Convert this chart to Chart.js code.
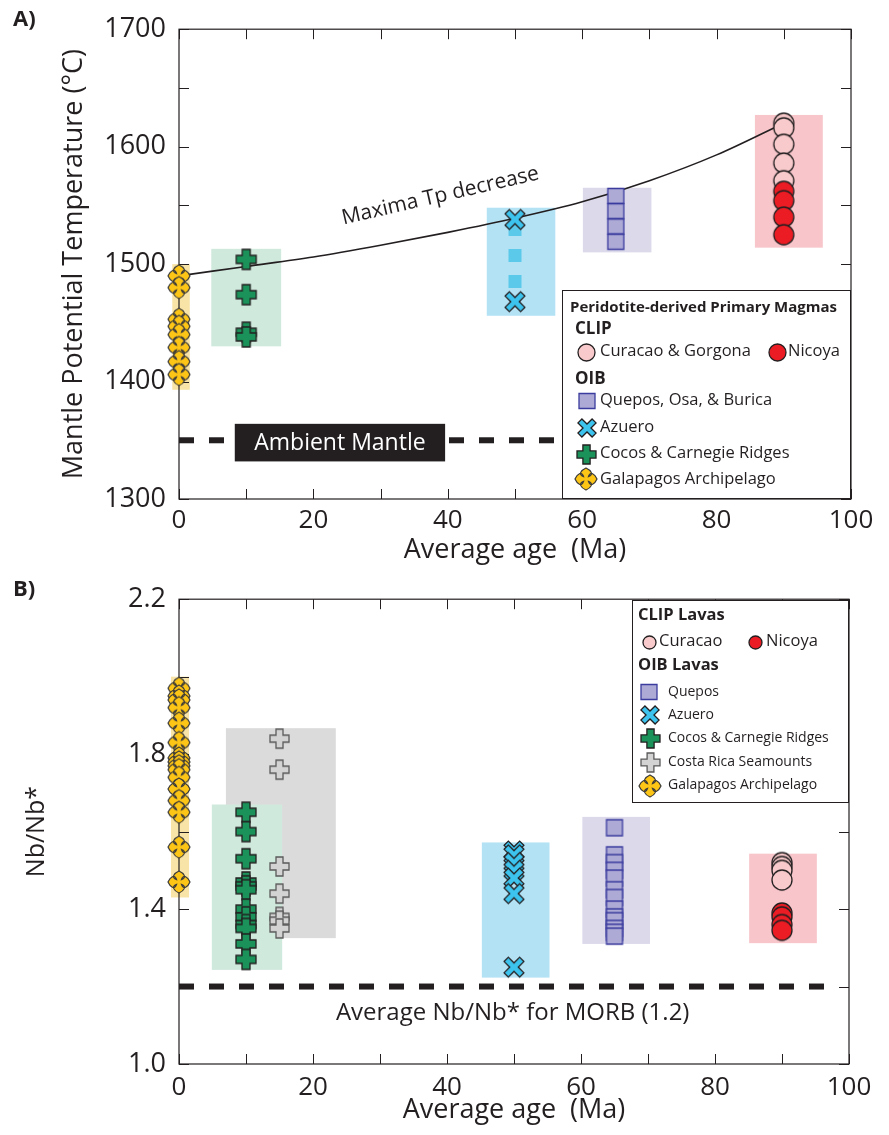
<!DOCTYPE html>
<html>
<head>
<meta charset="utf-8">
<script src="https://cdn.jsdelivr.net/npm/chart.js@4.4.1/dist/chart.umd.min.js"></script>
<style>
  body { margin: 0; background: #fff; }
  #wrapA { position: absolute; left: 0; top: 0; width: 889px; height: 570px; }
  #wrapB { position: absolute; left: 0; top: 570px; width: 889px; height: 565px; }
</style>
</head>
<body>
<div id="wrapA"><canvas id="chartA" width="889" height="570"></canvas></div>
<div id="wrapB"><canvas id="chartB" width="889" height="565"></canvas></div>
<script>
// ages (Ma) of each sample group
const ageGalapagos = 0;
const ageCocos = 10;
const ageSeamounts = 15;
const ageAzuero = 50;
const ageQuepos = 65;
const ageCLIP = 90;

// A) mantle potential temperature (degC)
const tpGalapagos = [1490, 1480, 1453, 1447, 1440, 1429, 1417, 1406];
const tpCocos = [1504, 1474, 1442, 1438];
const tpAzuero = [1538, 1468];
const tpQuepos = [1558, 1545, 1532, 1519];
const tpCuracao = [1620, 1616, 1602, 1586, 1571];
const tpNicoya = [1562, 1554, 1540, 1525];

// fitted maxima curve
const maximaAge = [0, 10, 20, 30, 40, 50, 60, 70, 80, 90];
const maximaTp = [1490, 1498, 1506, 1516, 1527, 1539, 1553, 1571, 1593, 1620];
const ambientTp = 1350;

// ranges shaded behind each group: [ageMin, ageMax, valueMin, valueMax]
const rangeGalapagosA = [-1.0, 1.6, 1393, 1500];
const rangeCocosA = [4.8, 15.2, 1430, 1513];
const rangeAzueroA = [45.8, 56.0, 1456, 1548];
const rangeQueposA = [60.1, 70.3, 1510, 1565];
const rangeCLIPA = [85.7, 95.8, 1514, 1627];

// B) Nb/Nb*
const nbGalapagos = [1.97, 1.95, 1.94, 1.92, 1.88, 1.83, 1.79, 1.78, 1.77, 1.76, 1.74, 1.71, 1.68, 1.65, 1.56, 1.47];
const nbCocos = [1.65, 1.60, 1.53, 1.47, 1.46, 1.45, 1.40, 1.38, 1.36, 1.35, 1.31, 1.27];
const nbSeamounts = [1.84, 1.76, 1.51, 1.44, 1.38, 1.37, 1.35];
const nbAzuero = [1.55, 1.54, 1.52, 1.50, 1.48, 1.44, 1.25];
const nbQuepos = [1.61, 1.54, 1.52, 1.50, 1.48, 1.45, 1.43, 1.40, 1.38, 1.37, 1.35, 1.34, 1.33];
const nbCuracao = [1.52, 1.51, 1.50, 1.475];
const nbNicoya = [1.39, 1.38, 1.36, 1.345];
const morbNb = 1.2;

const rangeGalapagosB = [-1.2, 1.5, 1.43, 2.0];
const rangeSeamountsB = [7.0, 23.4, 1.325, 1.867];
const rangeCocosB = [4.9, 15.4, 1.243, 1.67];
const rangeAzueroB = [45.2, 55.3, 1.223, 1.572];
const rangeQueposB = [60.2, 70.3, 1.31, 1.638];
const rangeCLIPB = [85.1, 95.2, 1.312, 1.543];

const INK = "#231f20";
const FONT = '"Open Sans", "DejaVu Sans", sans-serif';

// ---------- marker images ----------
function marker(size, paint) {
  const c = document.createElement("canvas");
  c.width = size;
  c.height = size;
  const g = c.getContext("2d");
  g.translate(size / 2, size / 2);
  paint(g);
  return c;
}

function crossPath(g, t, L, rot) {
  const pts = [[-t, -L], [t, -L], [t, -t], [L, -t], [L, t], [t, t], [t, L], [-t, L], [-t, t], [-L, t], [-L, -t], [-t, -t]];
  const c = Math.cos(rot), s = Math.sin(rot);
  g.beginPath();
  pts.forEach(([x, y], i) => {
    const px = x * c - y * s, py = x * s + y * c;
    i ? g.lineTo(px, py) : g.moveTo(px, py);
  });
  g.closePath();
}

// four rounded lobes with slightly pointed tips
function starPath(g, r) {
  g.beginPath();
  for (let k = 0; k < 4; k++) {
    const a = (k * Math.PI) / 2;
    const rot = (x, y) => [x * Math.cos(a) - y * Math.sin(a), x * Math.sin(a) + y * Math.cos(a)];
    if (k === 0) g.moveTo(...rot(-0.22 * r, -0.22 * r));
    g.bezierCurveTo(...rot(-0.75 * r, -0.4 * r), ...rot(-0.45 * r, -0.8 * r), ...rot(0, -r));
    g.bezierCurveTo(...rot(0.45 * r, -0.8 * r), ...rot(0.75 * r, -0.4 * r), ...rot(0.22 * r, -0.22 * r));
  }
  g.closePath();
}

function paintFill(g, fill, stroke, lw) {
  g.fillStyle = fill;
  g.fill();
  g.strokeStyle = stroke;
  g.lineWidth = lw;
  g.stroke();
}

const circleMk = (r, fill) => marker(2 * r + 4, (g) => {
  g.beginPath();
  g.arc(0, 0, r, 0, Math.PI * 2);
  paintFill(g, fill, INK, 1.3);
});
const squareMk = (w, h) => marker(Math.max(w, h) + 4, (g) => {
  g.beginPath();
  g.rect(-w / 2, -h / 2, w, h);
  paintFill(g, "#aeaad6", "#3b3c9e", 1.3);
});
const xMk = (t, L) => marker(2 * L + 6, (g) => {
  crossPath(g, t, L, Math.PI / 4);
  paintFill(g, "#3cc3ee", INK, 1.3);
});
const plusMk = (t, L, fill, stroke) => marker(2 * L + 4, (g) => {
  crossPath(g, t, L, 0);
  paintFill(g, fill, stroke, 1.3);
});
const starMk = (r) => marker(2 * r + 4, (g) => {
  starPath(g, r);
  paintFill(g, "#fdc516", "#3a3a3a", 1.2);
});

const MK = {
  curacao: circleMk(10, "#f8cacb"),
  nicoya: circleMk(10, "#ec1c24"),
  queposA: squareMk(16, 15),
  queposB: squareMk(16, 16),
  azuero: xMk(3, 11),
  cocos: plusMk(4, 10, "#1b9259", INK),
  seamount: plusMk(3.5, 9.5, "#d3d3d3", "#5a5a5a"),
  galapagos: starMk(11),
};
const LMK = {
  curacaoA: circleMk(8.5, "#f8cacb"),
  nicoyaA: circleMk(8.5, "#ec1c24"),
  curacaoB: circleMk(6.5, "#f8cacb"),
  nicoyaB: circleMk(6.5, "#ec1c24"),
  square: squareMk(16, 15),
  azuero: xMk(2.8, 10),
  cocos: plusMk(3.6, 9.5, "#1b9259", INK),
  seamount: plusMk(3.4, 9.5, "#d3d3d3", "#5a5a5a"),
  galapagos: starMk(11),
};

// ---------- dataset helpers ----------
function group(age, values, style) {
  return {
    type: "scatter",
    data: values.map((v) => ({ x: age, y: v })),
    pointStyle: style,
    pointRadius: 10,
    clip: false,
  };
}

function segment(points, color, width, dash) {
  return {
    type: "line",
    data: points,
    borderColor: color,
    borderWidth: width,
    borderDash: dash,
    pointRadius: 0,
    fill: false,
    clip: false,
  };
}

// ---------- drawing helpers ----------
function drawRanges(chart, ranges) {
  const { ctx, scales: { x, y } } = chart;
  ranges.forEach(([r, color]) => {
    const x0 = x.getPixelForValue(r[0]), x1 = x.getPixelForValue(r[1]);
    const y0 = y.getPixelForValue(r[3]), y1 = y.getPixelForValue(r[2]);
    ctx.fillStyle = color;
    ctx.fillRect(x0, y0, x1 - x0, y1 - y0);
  });
}

function drawFrame(chart) {
  const { ctx, chartArea: a, scales: { x, y } } = chart;
  ctx.save();
  ctx.strokeStyle = INK;
  ctx.lineWidth = 1.2;
  ctx.strokeRect(a.left, a.top, a.right - a.left, a.bottom - a.top);
  ctx.lineWidth = 1;
  ctx.beginPath();
  x.ticks.forEach((t) => {
    const px = Math.round(x.getPixelForValue(t.value)) + 0.5;
    ctx.moveTo(px, a.bottom); ctx.lineTo(px, a.bottom - 10);
    ctx.moveTo(px, a.top); ctx.lineTo(px, a.top + 10);
  });
  y.ticks.forEach((t) => {
    const py = Math.round(y.getPixelForValue(t.value)) + 0.5;
    ctx.moveTo(a.left, py); ctx.lineTo(a.left + 10, py);
    ctx.moveTo(a.right, py); ctx.lineTo(a.right - 10, py);
  });
  ctx.stroke();
  ctx.restore();
}

function text(ctx, str, x, y, size, opts = {}) {
  ctx.font = `${opts.bold ? "bold " : ""}${size}px ${FONT}`;
  ctx.fillStyle = opts.color || INK;
  ctx.textAlign = opts.align || "left";
  ctx.textBaseline = "middle";
  ctx.fillText(str, x, y);
}

function stamp(ctx, img, cx, cy) {
  ctx.drawImage(img, Math.round(cx - img.width / 2), Math.round(cy - img.height / 2));
}

function axisOptions(cfg) {
  return {
    responsive: false,
    animation: false,
    events: [],
    layout: { padding: cfg.padding },
    plugins: { legend: { display: false }, tooltip: { enabled: false } },
    scales: {
      x: {
        type: "linear",
        min: 0,
        max: 100,
        ticks: {
          stepSize: 10,
          autoSkip: false,
          maxRotation: 0,
          padding: cfg.xTickPad,
          color: INK,
          font: { family: FONT, size: 26 },
          callback: (v) => (v % 20 === 0 ? v : ""),
        },
        grid: { display: false, drawTicks: false },
        border: { display: false },
        title: {
          display: true,
          text: "Average age  (Ma)",
          color: INK,
          font: { family: FONT, size: 27 },
          padding: { top: 0, bottom: cfg.xTitlePad },
        },
        afterFit: (s) => { s.height = cfg.xHeight; },
      },
      y: {
        type: "linear",
        min: cfg.yMin,
        max: cfg.yMax,
        ticks: {
          stepSize: cfg.yStep,
          autoSkip: false,
          padding: 13,
          color: INK,
          font: { family: FONT, size: 27 },
          callback: cfg.yLabel,
        },
        grid: { display: false, drawTicks: false },
        border: { display: false },
        title: {
          display: true,
          text: cfg.yTitle,
          color: INK,
          font: { family: FONT, size: cfg.yTitleSize },
          padding: { top: cfg.yTitlePad, bottom: 0 },
        },
        afterFit: (s) => { s.width = 179; },
      },
    },
  };
}

// ---------- panel A ----------
const panelA = {
  id: "panelA",
  beforeDatasetsDraw(chart) {
    const ctx = chart.ctx;
    ctx.save();
    drawRanges(chart, [
      [rangeGalapagosA, "#f8e4a6"],
      [rangeCocosA, "#d0e9dd"],
      [rangeAzueroA, "#b4e2f5"],
      [rangeQueposA, "#dcd9eb"],
      [rangeCLIPA, "#f7c5ca"],
    ]);
    ctx.restore();
    drawFrame(chart);
  },
  afterDatasetsDraw(chart) {
    const { ctx, scales: { x, y } } = chart;
    ctx.save();
    // label over the ambient mantle line
    const bx0 = x.getPixelForValue(8.3), bx1 = x.getPixelForValue(39.6);
    const by0 = y.getPixelForValue(1364), by1 = y.getPixelForValue(1332);
    ctx.fillStyle = INK;
    ctx.fillRect(bx0, by0, bx1 - bx0, by1 - by0);
    text(ctx, "Ambient Mantle", (bx0 + bx1) / 2, (by0 + by1) / 2 + 1, 23, { color: "#fff", align: "center" });

    // curve label
    ctx.save();
    ctx.translate(x.getPixelForValue(38.9), y.getPixelForValue(1558));
    ctx.rotate((-13 * Math.PI) / 180);
    text(ctx, "Maxima Tp decrease", 0, 0, 21, { align: "center" });
    ctx.restore();

    // legend
    ctx.fillStyle = "#fff";
    ctx.fillRect(562, 290, 289, 209);
    ctx.strokeStyle = INK;
    ctx.lineWidth = 1;
    ctx.strokeRect(562.5, 290.5, 288, 208);
    text(ctx, "Peridotite-derived Primary Magmas", 570, 308, 15, { bold: true });
    text(ctx, "CLIP", 575, 329, 17, { bold: true });
    stamp(ctx, LMK.curacaoA, 586, 352);
    text(ctx, "Curacao & Gorgona", 600, 351, 16.5);
    stamp(ctx, LMK.nicoyaA, 777, 352);
    text(ctx, "Nicoya", 788, 351, 16.5);
    text(ctx, "OIB", 575, 379, 17, { bold: true });
    stamp(ctx, LMK.square, 587, 401);
    text(ctx, "Quepos, Osa, & Burica", 600, 400, 16.5);
    stamp(ctx, LMK.azuero, 587, 428);
    text(ctx, "Azuero", 600, 427, 16.5);
    stamp(ctx, LMK.cocos, 586, 454);
    text(ctx, "Cocos & Carnegie Ridges", 600, 453, 16.5);
    stamp(ctx, LMK.galapagos, 586, 479);
    text(ctx, "Galapagos Archipelago", 600, 479, 16.5);

    text(ctx, "A)", 13, 20, 22, { bold: true });
    ctx.restore();
  },
};

new Chart(document.getElementById("chartA"), {
  data: {
    datasets: [
      group(ageCLIP, tpNicoya, MK.nicoya),
      group(ageCLIP, tpCuracao, MK.curacao),
      group(ageQuepos, tpQuepos, MK.queposA),
      group(ageAzuero, tpAzuero, MK.azuero),
      segment([{ x: ageAzuero, y: 1535 }, { x: ageAzuero, y: 1478 }], "#5bc9e9", 13, [13, 13]),
      group(ageCocos, tpCocos, MK.cocos),
      group(ageGalapagos, tpGalapagos, MK.galapagos),
      Object.assign(
        segment(maximaAge.map((a, i) => ({ x: a, y: maximaTp[i] })), INK, 1.6, []),
        { tension: 0.4, cubicInterpolationMode: "monotone" }
      ),
      segment([{ x: 0, y: ambientTp }, { x: 100, y: ambientTp }], INK, 6, [15, 15]),
    ],
  },
  options: axisOptions({
    padding: { top: 26, right: 38, left: 0, bottom: 0 },
    xTickPad: 6,
    xTitlePad: 3,
    xHeight: 71,
    yMin: 1300,
    yMax: 1700,
    yStep: 50,
    yLabel: (v) => (v % 100 === 0 ? v : ""),
    yTitle: "Mantle Potential Temperature (°C)",
    yTitleSize: 27,
    yTitlePad: 58,
  }),
  plugins: [panelA],
});

// ---------- panel B ----------
const panelB = {
  id: "panelB",
  beforeDatasetsDraw(chart) {
    const ctx = chart.ctx;
    ctx.save();
    drawRanges(chart, [
      [rangeGalapagosB, "#f8e4a6"],
      [rangeSeamountsB, "#dcdbdb"],
      [rangeCocosB, "#d0e9dd"],
      [rangeAzueroB, "#b4e2f5"],
      [rangeQueposB, "#dcd9eb"],
      [rangeCLIPB, "#f7c5ca"],
    ]);
    ctx.restore();
    drawFrame(chart);
  },
  afterDatasetsDraw(chart) {
    const { ctx, scales: { x, y } } = chart;
    ctx.save();
    text(ctx, "Average Nb/Nb* for MORB (1.2)", x.getPixelForValue(49.8), y.getPixelForValue(1.13), 24, { align: "center" });

    // legend
    ctx.fillStyle = "#fff";
    ctx.fillRect(632, 30, 217, 203);
    ctx.strokeStyle = INK;
    ctx.lineWidth = 1;
    ctx.strokeRect(632.5, 30.5, 216, 202);
    text(ctx, "CLIP Lavas", 638, 45, 16.5, { bold: true });
    stamp(ctx, LMK.curacaoB, 649, 72);
    text(ctx, "Curacao", 659, 71, 16.5);
    stamp(ctx, LMK.nicoyaB, 755, 72);
    text(ctx, "Nicoya", 766, 71, 16.5);
    text(ctx, "OIB Lavas", 638, 95, 16.5, { bold: true });
    stamp(ctx, LMK.square, 649, 122);
    text(ctx, "Quepos", 668, 122, 14);
    stamp(ctx, LMK.azuero, 650, 145);
    text(ctx, "Azuero", 668, 145, 14);
    stamp(ctx, LMK.cocos, 650, 168);
    text(ctx, "Cocos & Carnegie Ridges", 668, 168, 14);
    stamp(ctx, LMK.seamount, 650, 192);
    text(ctx, "Costa Rica Seamounts", 668, 192, 14);
    stamp(ctx, LMK.galapagos, 650, 216);
    text(ctx, "Galapagos Archipelago", 668, 215, 14);

    text(ctx, "B)", 13, 20, 22, { bold: true });
    ctx.restore();
  },
};

new Chart(document.getElementById("chartB"), {
  data: {
    datasets: [
      group(ageCLIP, nbNicoya, MK.nicoya),
      group(ageCLIP, nbCuracao, MK.curacao),
      group(ageQuepos, nbQuepos, MK.queposB),
      group(ageAzuero, nbAzuero, MK.azuero),
      group(ageCocos, nbCocos, MK.cocos),
      group(ageSeamounts, nbSeamounts, MK.seamount),
      group(ageGalapagos, nbGalapagos, MK.galapagos),
      segment([{ x: 0, y: morbNb }, { x: 98.5, y: morbNb }], INK, 6, [15, 15]),
    ],
  },
  options: axisOptions({
    padding: { top: 22, right: 40, left: 0, bottom: 0 },
    xTickPad: 8,
    xTitlePad: 8,
    xHeight: 71,
    yMin: 1.0,
    yMax: 2.2,
    yStep: 0.2,
    yLabel: (v) => {
      const k = (v - 1) / 0.4;
      return Math.abs(k - Math.round(k)) < 1e-6 ? v.toFixed(1) : "";
    },
    yTitle: "Nb/Nb*",
    yTitleSize: 25,
    yTitlePad: 22,
  }),
  plugins: [panelB],
});
</script>
</body>
</html>
